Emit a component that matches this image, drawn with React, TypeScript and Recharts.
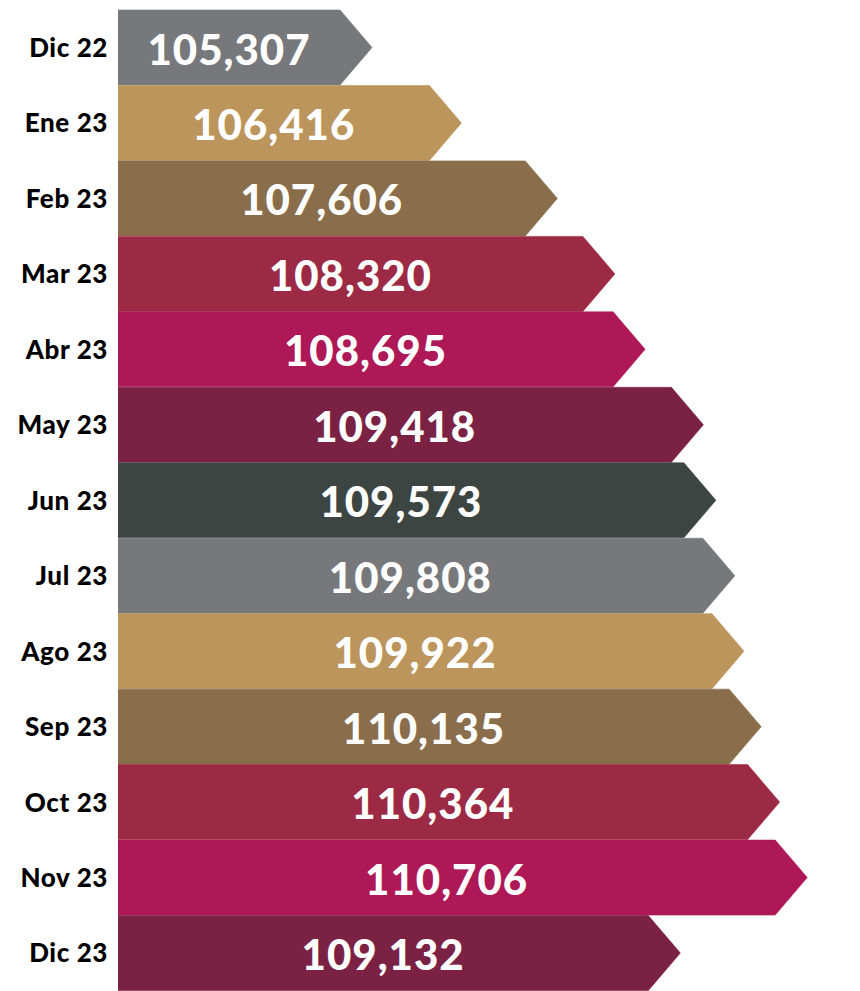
import React from "react";
import { BarChart, Bar, XAxis, YAxis, Cell, LabelList } from "recharts";

const months = ["Dic 22", "Ene 23", "Feb 23", "Mar 23", "Abr 23", "May 23", "Jun 23", "Jul 23", "Ago 23", "Sep 23", "Oct 23", "Nov 23", "Dic 23"];
const values = [105307, 106416, 107606, 108320, 108695, 109418, 109573, 109808, 109922, 110135, 110364, 110706, 109132];
const colors = ["#77787b", "#bc955c", "#8a6d4b", "#9d2a44", "#ae1856", "#7b2244", "#3d4543", "#77787b", "#bc955c", "#8a6d4b", "#9d2a44", "#ae1856", "#7b2244"];
const xDomain = [102155, 111361];

const data = months.map((m, i) => ({ month: m, value: values[i], color: colors[i] }));

const HEAD = 32;

const ArrowShape = (props: any) => {
  const { x, y, width, height, fill } = props;
  const h = Math.min(HEAD, width);
  const pts = [
    [x, y],
    [x + width - h, y],
    [x + width, y + height / 2],
    [x + width - h, y + height],
    [x, y + height],
  ]
    .map((p) => p.join(","))
    .join(" ");
  return <polygon points={pts} fill={fill} stroke={fill} strokeWidth={0.6} />;
};

const ValueLabel = (props: any) => {
  const { x, y, width, height, value } = props;
  const cx = x + (width - HEAD) / 2;
  return (
    <text
      x={cx}
      y={y + height / 2 + 1}
      textAnchor="middle"
      dominantBaseline="central"
      fill="#ffffff"
      fontFamily="Lato, 'Noto Sans', sans-serif"
      fontWeight={900}
      fontSize={42}
      letterSpacing={1}
    >
      {Number(value).toLocaleString("en-US")}
    </text>
  );
};

export default function App() {
  return (
    <div style={{ position: "absolute", left: 0, top: 0, width: 860, height: 991, background: "#ffffff" }}>
      <BarChart
        width={860}
        height={991}
        data={data}
        layout="vertical"
        margin={{ top: 10, right: 0, bottom: 0, left: 0 }}
        barCategoryGap={0}
      >
        <XAxis type="number" domain={xDomain} hide allowDataOverflow />
        <YAxis
          type="category"
          dataKey="month"
          width={118}
          axisLine={false}
          tickLine={false}
          tickSize={0}
          tickMargin={10}
          tick={{ fill: "#000000", fontFamily: "Lato, 'Noto Sans', sans-serif", fontWeight: 900, fontSize: 26, letterSpacing: 0.6 }}
        />
        <Bar dataKey="value" shape={<ArrowShape />} isAnimationActive={false}>
          {data.map((d, i) => (
            <Cell key={i} fill={d.color} />
          ))}
          <LabelList dataKey="value" content={<ValueLabel />} />
        </Bar>
      </BarChart>
    </div>
  );
}
